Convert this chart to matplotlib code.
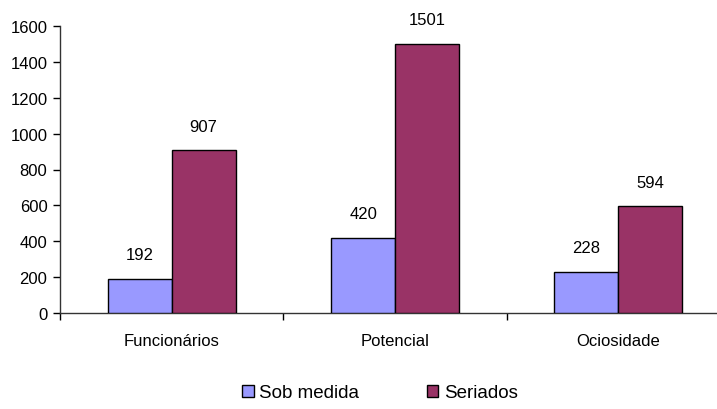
import matplotlib
matplotlib.use("Agg")
import matplotlib.pyplot as plt
import numpy as np

categories = ["Funcionários", "Potencial", "Ociosidade"]
sob_medida = [192, 420, 228]
seriados = [907, 1501, 594]
series_names = ["Sob medida", "Seriados"]
y_ticks = [0, 200, 400, 600, 800, 1000, 1200, 1400, 1600]

plt.rcParams["font.family"] = ["Liberation Sans", "DejaVu Sans"]

W, H = 717, 410
fig = plt.figure(figsize=(W / 100, H / 100), dpi=100)
# axes spans x 60..730 px (right part runs off the canvas), y 27..314 px
ax = fig.add_axes([60 / W, (H - 314) / H, 670 / W, 287 / H])

x = np.arange(len(categories))
w = 0.286
c_blue = "#9999FF"
c_red = "#993366"

b1 = ax.bar(x - w / 2, sob_medida, w, color=c_blue, edgecolor="black", linewidth=1.0,
            label=series_names[0], zorder=3)
b2 = ax.bar(x + w / 2, seriados, w, color=c_red, edgecolor="black", linewidth=1.0,
            label=series_names[1], zorder=3)

for bars, vals in ((b1, sob_medida), (b2, seriados)):
    for rect, v in zip(bars, vals):
        ax.annotate(f"{v}", (rect.get_x() + rect.get_width() / 2, v),
                    xytext=(0, 12), textcoords="offset points",
                    ha="center", va="bottom", fontsize=12)

ax.set_xlim(-0.5, 2.5)
ax.set_ylim(0, 1600)
ax.set_yticks(y_ticks)
ax.set_xticks(x)
ax.set_xticklabels(categories)
ax.set_xticks([-0.5, 0.5, 1.5, 2.5], minor=True)

ax.tick_params(axis="y", direction="out", length=5, width=1, labelsize=12, pad=4)
ax.tick_params(axis="x", which="major", length=0, labelsize=12, pad=14.5)
ax.tick_params(axis="x", which="minor", direction="out", length=5, width=1)

for s in ("top", "right"):
    ax.spines[s].set_visible(False)
for s in ("left", "bottom"):
    ax.spines[s].set_color("#333333")
    ax.spines[s].set_linewidth(1.0)

fig.legend(handles=[b1, b2], labels=series_names, loc="center",
           bbox_to_anchor=(380 / W, 16 / H), ncol=2, frameon=False,
           fontsize=13.5, handlelength=0.6, handleheight=0.6,
           handletextpad=0.3, columnspacing=3.6)

fig.savefig("out.png", dpi=100)
